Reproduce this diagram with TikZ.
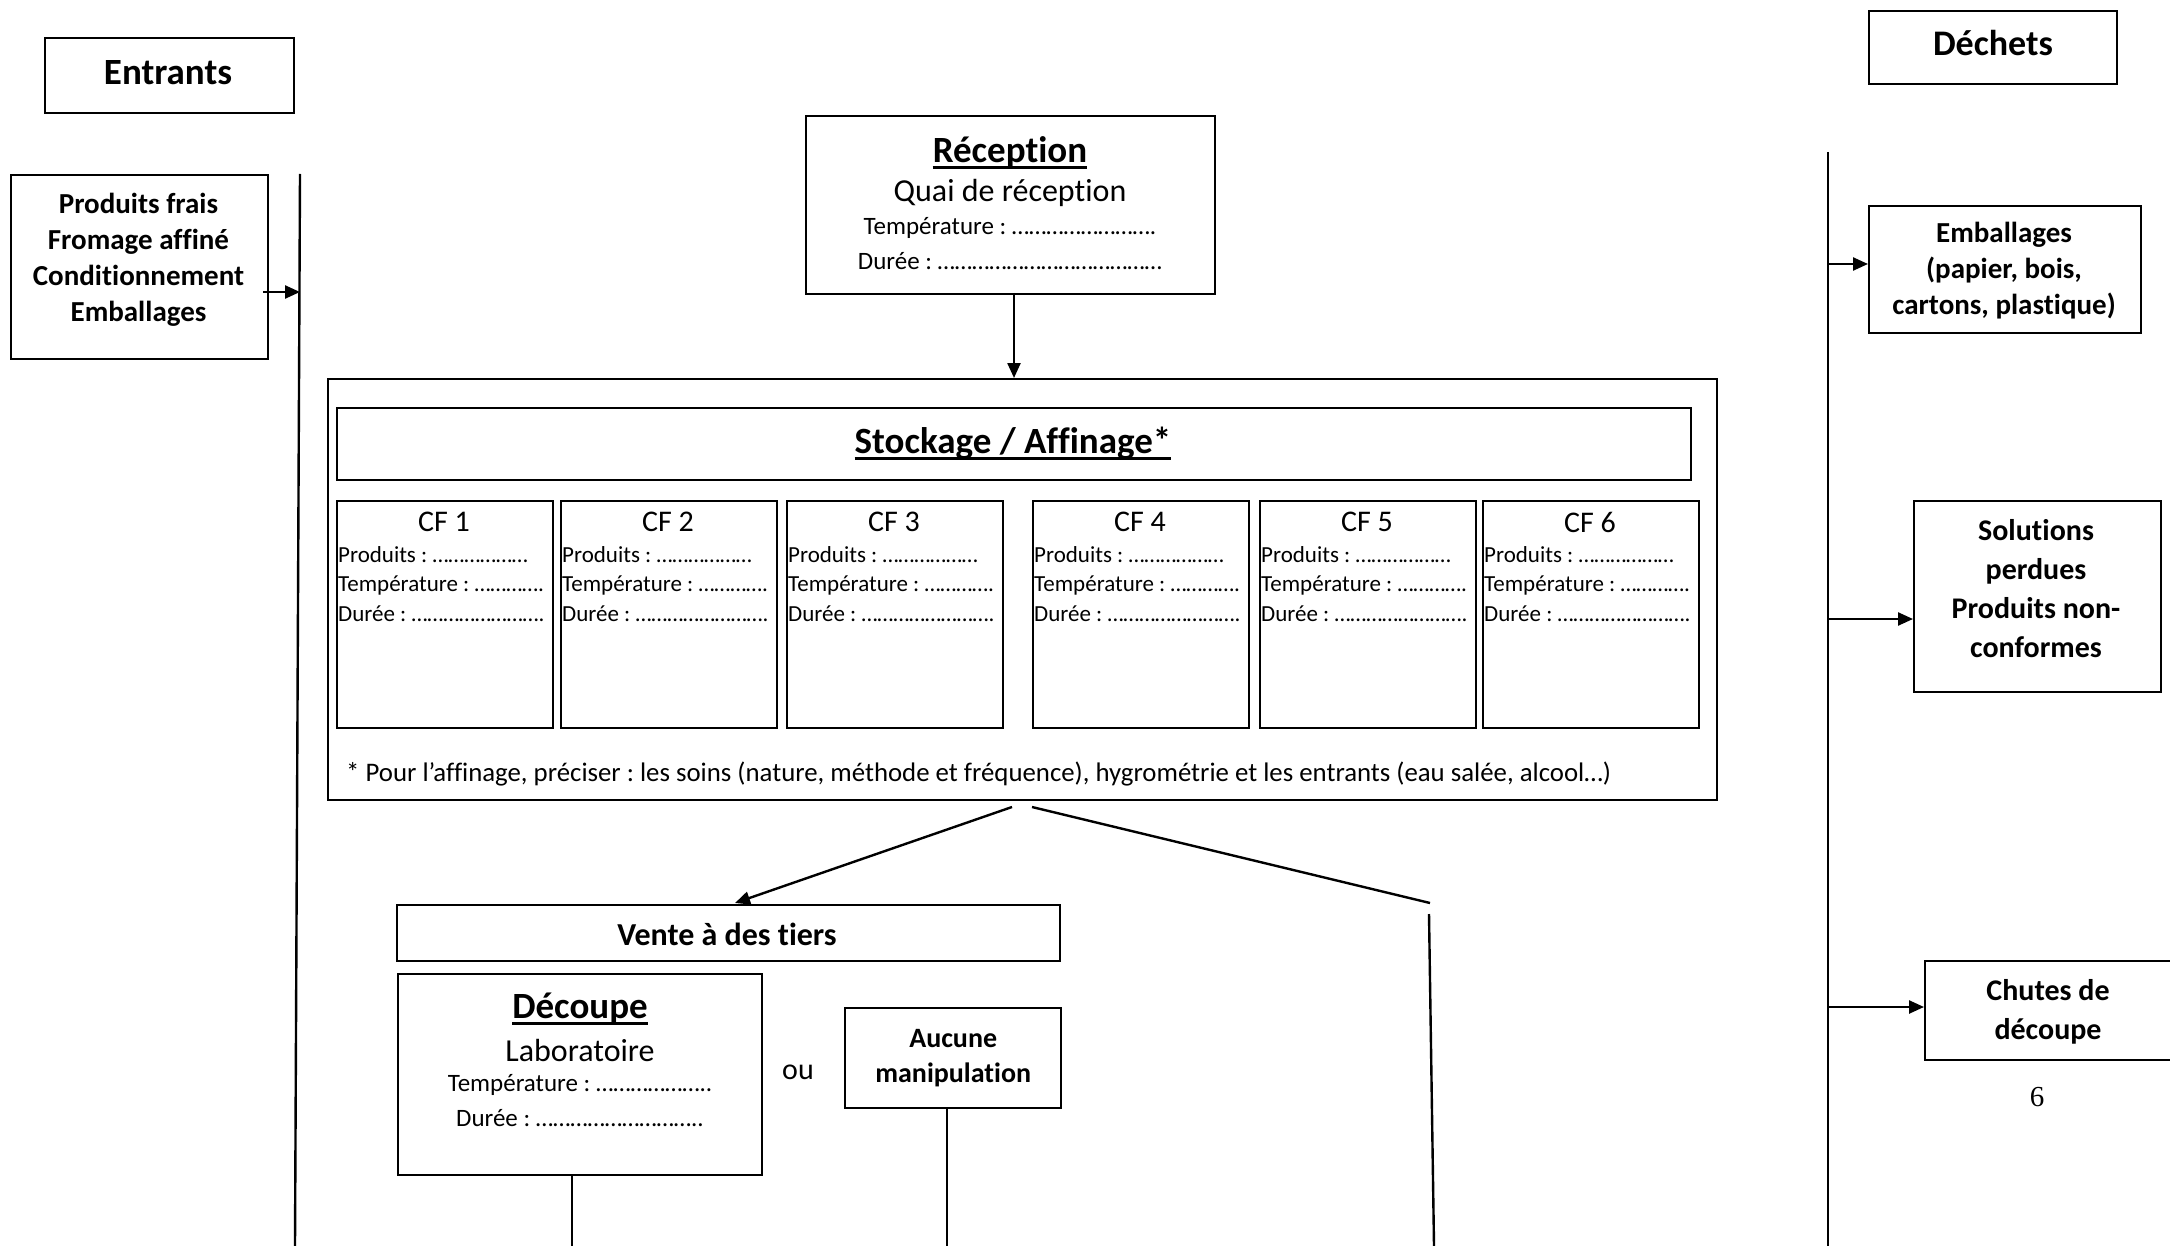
\documentclass[tikz,border=0pt]{standalone}
\usepackage{fontspec}
\setmainfont{Carlito}[Ligatures={NoCommon,NoContextual}]
\newfontfamily\serifnum{Liberation Serif}
\usetikzlibrary{arrows.meta}
\newcommand\fsz[2]{\fontsize{#1}{#2}\selectfont}
\newcommand\mybox[7]{\node[bx,#6,minimum width={(#4)-(#2)},minimum height={(#5)-(#3)}] (#1) at (#2,#3) {#7};}
\begin{document}
\frenchspacing
\begin{tikzpicture}[x=1pt,y=-1pt,
  bx/.style={draw,line width=2.4pt,inner sep=0pt,anchor=north west},
  ln/.style={line width=2.4pt},
  arr/.style={line width=2.4pt,-{Triangle[length=15pt,width=13pt]}},
  txt/.style={inner sep=0pt},
  ul/.style={line width=3pt}]
\fill[white] (0,0) rectangle (2170,1246);
\useasboundingbox (0,0) rectangle (2170,1246);

% Entrants
\mybox{ent}{44}{37}{293}{112}{}{}
\node[txt,font=\fsz{37}{43}\bfseries] (entt) at (168,73) {Entrants};
\mybox{prod}{10}{174}{267}{358}{}{}
\node[txt,align=center,font=\fsz{29}{36}\bfseries] (prodt) at (138.5,260) {Produits frais\\Fromage affiné\\Conditionnement\\Emballages};
\coordinate (lt) at (300,174);
\coordinate (lb) at (295,1246);
\draw[ln] (lt) -- (lb);
\coordinate (pa) at (263,292);
\coordinate (pb) at (300,292);
\draw[arr] (pa) -- (pb);

% Reception
\mybox{rec}{805}{115}{1214}{293}{}{}
\node[txt,font=\fsz{37}{40}\bfseries] (rect) at (1010,152) {Réception};
\draw[ul] ([yshift=-5pt]rect.base west) -- ([yshift=-5pt]rect.base east);
\node[txt,font=\fsz{32}{36}] (recq) at (1010,193) {Quai de réception};
\node[txt,font=\fsz{25}{30}] (rect2) at (1010,228) {Température : …………………….};
\node[txt,font=\fsz{25}{30}] (recd) at (1010,261) {Durée : …………………………………};

% Stockage
\mybox{sto}{327}{378}{1716}{799}{}{}
\coordinate (ra) at (1014,293);
\draw[arr] (ra) -- (sto.north -| ra);
\mybox{stt}{336}{407}{1690}{479}{}{}
\node[txt,font=\fsz{37}{40}\bfseries] (sttl) at (1013,443) {Stockage / Affinage*};
\draw[ul] ([yshift=-5pt]sttl.base west) -- ([yshift=-5pt]sttl.base east);
\foreach \i/\a/\b in {1/336/552,2/560/776,3/786/1002,4/1032/1248,5/1259/1475,6/1482/1698}{
  \mybox{cf\i}{\a}{500}{\b}{727}{}{}
  \node[txt,font=\fsz{30}{30}] (cf\i-t) at ({(\a+\b)/2},522) {CF \i};
  \node[txt,anchor=west,font=\fsz{23}{23}] (cf\i-p) at (\a+2,555) {Produits : ………………};
  \node[txt,anchor=west,font=\fsz{23}{23}] (cf\i-q) at (\a+2,585) {Température : ………….};
  \node[txt,anchor=west,font=\fsz{23}{23}] (cf\i-d) at (\a+2,614) {Durée : …………………….};
}
\node[txt,anchor=west,font=\fsz{26.8}{26.8}] (foot) at (346,774) {* Pour l’affinage, préciser : les soins (nature, méthode et fréquence), hygrométrie et les entrants (eau salée, alcool…)};

% branches
\coordinate (s1) at (1012,807);
\coordinate (s2) at (1032,807);
\coordinate (b1) at (1430,903);
\coordinate (b2) at (1429,914);
\coordinate (b3) at (1434,1246);
\mybox{vente}{396}{904}{1059}{960}{}{}
\node[txt,font=\fsz{32}{32}\bfseries] (ventet) at (727,934) {Vente à des tiers};
\coordinate (vt) at (735,903);
\draw[arr] (s1) -- (vt);
\draw[ln] (s2) -- (b1);
\draw[ln] (b2) -- (b3);

% Decoupe
\mybox{dcp}{397}{973}{761}{1174}{}{}
\node[txt,font=\fsz{37}{40}\bfseries] (dcpt) at (580,1009) {Découpe};
\draw[ul] ([yshift=-5pt]dcpt.base west) -- ([yshift=-5pt]dcpt.base east);
\node[txt,font=\fsz{32}{36}] (dcpl) at (580,1050) {Laboratoire};
\node[txt,font=\fsz{25}{28}] (dcpq) at (580,1085) {Température : ………………..};
\node[txt,font=\fsz{25}{28}] (dcpd) at (580,1118) {Durée : ………………………..};
\node[txt,font=\fsz{30}{30}] (ou) at (798,1072) {ou};
\mybox{auc}{844}{1007}{1060}{1107}{align=center,font=\fsz{28}{35}\bfseries}{Aucune\\manipulation}
\coordinate (d1) at (572,1174);
\coordinate (d2) at (572,1246);
\draw[ln] (d1) -- (d2);
\coordinate (a1) at (947,1107);
\coordinate (a2) at (947,1246);
\draw[ln] (a1) -- (a2);

% Dechets
\mybox{dec}{1868}{10}{2116}{83}{}{}
\node[txt,font=\fsz{36}{43}\bfseries] (dect) at (1993,43) {Déchets};
\coordinate (rt) at (1828,152);
\coordinate (rb) at (1828,1246);
\draw[ln] (rt) -- (rb);
\mybox{emb}{1868}{205}{2140}{332}{}{}
\node[txt,align=center,font=\fsz{29}{36}\bfseries] (embt) at (2004,271) {Emballages\\(papier, bois,\\cartons, plastique)};
\mybox{sol}{1913}{500}{2160}{691}{}{}
\node[txt,align=center,font=\fsz{30}{39}\bfseries] (solt) at (2036,589) {Solutions\\perdues\\Produits non-\\conformes};
\mybox{chu}{1924}{960}{2172}{1059}{}{}
\node[txt,align=center,font=\fsz{30}{39}\bfseries] (chut) at (2048,1012) {Chutes de\\découpe};
\coordinate (r1) at (1828,264);
\coordinate (r2) at (1828,619);
\coordinate (r3) at (1828,1007);
\draw[arr] (r1) -- (r1 -| emb.west);
\draw[arr] (r2) -- (r2 -| sol.west);
\draw[arr] (r3) -- (r3 -| chu.west);
\node[txt,font=\serifnum\fsz{29}{29}] (pg) at (2037,1097) {6};
\end{tikzpicture}
\end{document}
